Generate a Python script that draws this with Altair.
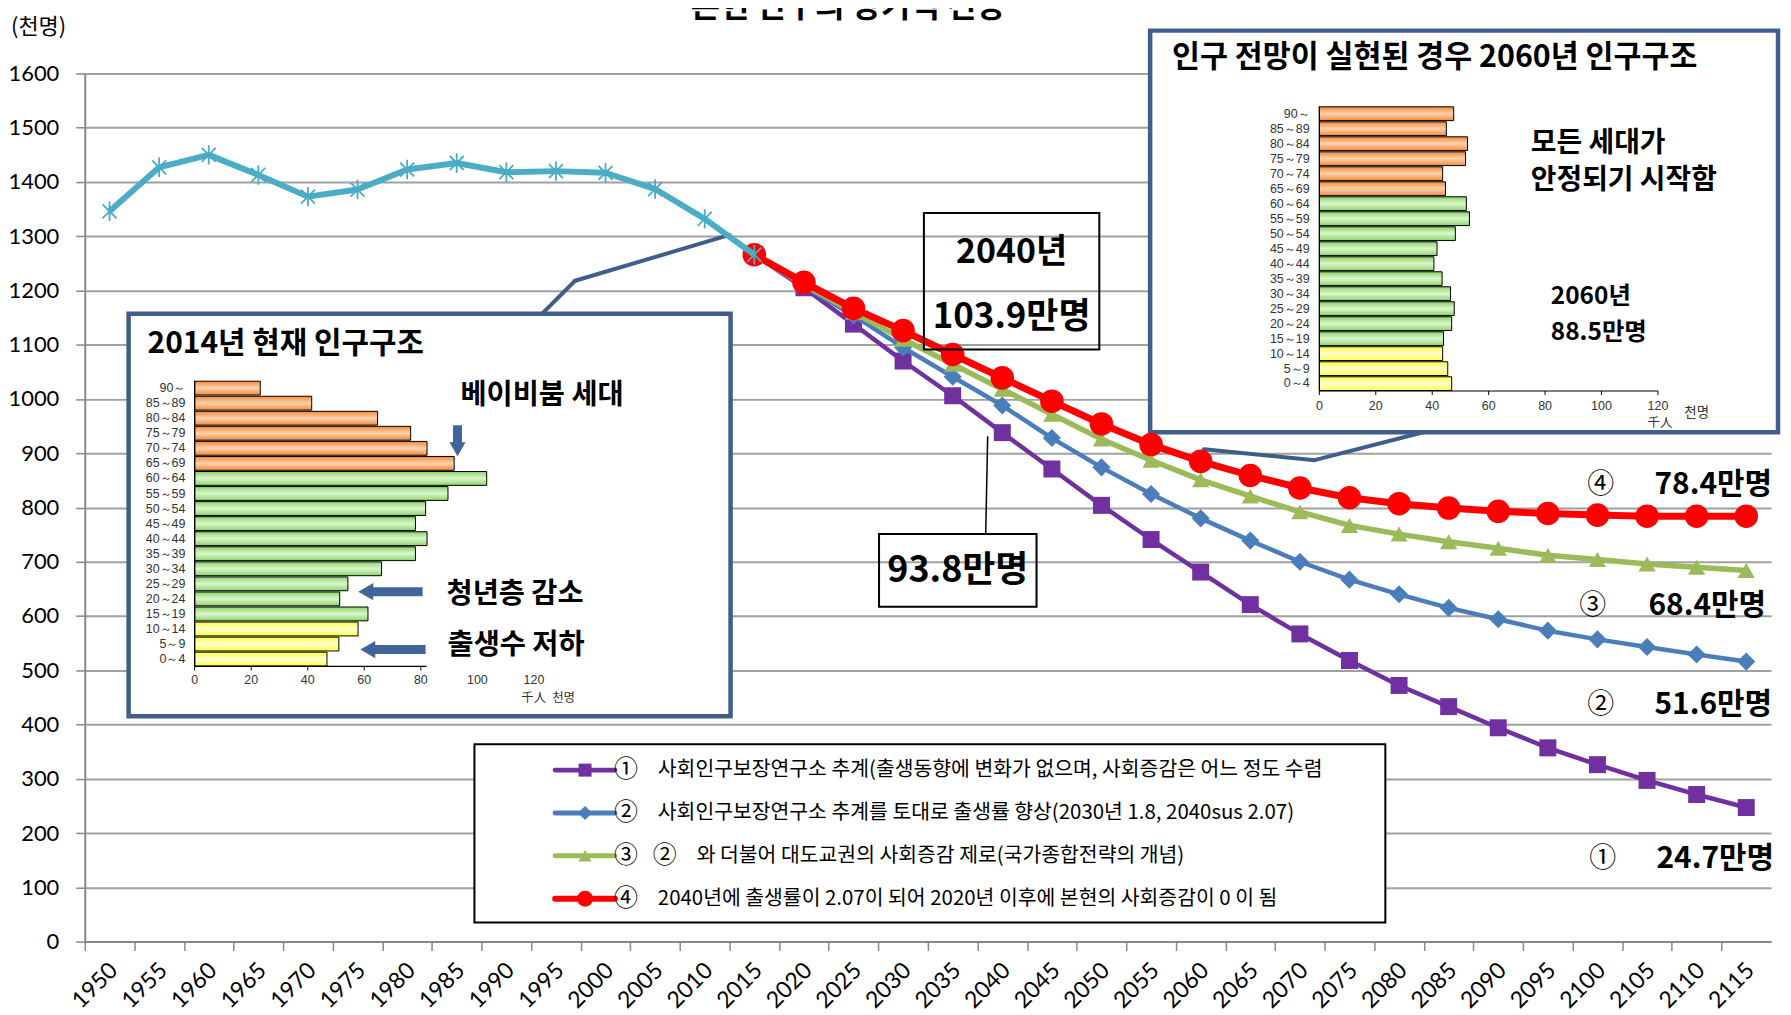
import altair as alt
import pandas as pd

# ---------------- data ----------------
hist_years = [1950, 1955, 1960, 1965, 1970, 1975, 1980, 1985, 1990, 1995, 2000, 2005, 2010, 2015]
hist_pop = [1346, 1427, 1450, 1413, 1373, 1386, 1423, 1435, 1418, 1420, 1417, 1387, 1332, 1266]

proj_years = [2015, 2020, 2025, 2030, 2035, 2040, 2045, 2050, 2055, 2060, 2065,
              2070, 2075, 2080, 2085, 2090, 2095, 2100, 2105, 2110, 2115]
proj1 = [1266, 1205, 1138, 1070, 1006, 938, 871, 804, 741, 681, 621, 567, 518, 472, 433, 394, 357, 326, 297, 271, 247]
proj2 = [1266, 1208, 1154, 1095, 1041, 988, 928, 874, 825, 780, 739, 700, 667, 640, 615, 594, 573, 557, 543, 529, 516]
proj3 = [1266, 1211, 1160, 1110, 1064, 1018, 972, 926, 887, 851, 821, 792, 767, 751, 737, 725, 712, 704, 696, 690, 684]
proj4 = [1266, 1215, 1167, 1126, 1082, 1039, 996, 954, 916, 885, 859, 836, 818, 807, 799, 793, 789, 786, 784, 784, 784]

x_labels = list(range(1950, 2120, 5))
y_ticks = list(range(0, 1700, 100))

ages = ["90～", "85～89", "80～84", "75～79", "70～74", "65～69", "60～64", "55～59", "50～54",
        "45～49", "40～44", "35～39", "30～34", "25～29", "20～24", "15～19", "10～14", "5～9", "0～4"]
age_groups = ["old"] * 6 + ["work"] * 10 + ["young"] * 3
pyr2014 = [23.2, 41.4, 64.7, 76.4, 82.2, 91.8, 103.3, 89.6, 81.7, 78.1, 82.2, 78.1, 66.1, 54.2, 51.3, 61.3, 57.8, 51.0, 46.8]
pyr2060 = [47.6, 45.0, 52.5, 51.8, 43.7, 44.7, 52.1, 53.2, 48.2, 41.7, 40.6, 43.5, 46.5, 47.8, 46.9, 44.0, 43.7, 45.5, 46.9]
pyr_ticks = [0, 20, 40, 60, 80, 100, 120]

legend_labels = [
    "사회인구보장연구소 추계(출생동향에 변화가 없으며, 사회증감은 어느 정도 수렴",
    "사회인구보장연구소 추계를 토대로 출생률 향상(2030년 1.8, 2040sus 2.07)",
    "와 더불어 대도교권의 사회증감 제로(국가종합전략의 개념)",
    "2040년에 출생률이 2.07이 되어 2020년 이후에 본현의 사회증감이 0 이 됨",
]
end_labels = ["24.7만명", "51.6만명", "68.4만명", "78.4만명"]
circled = ["①", "②", "③", "④"]

# ---------------- layout ----------------
PL, PT = 85, 72          # page position of plot area
W, H = 1692, 871
def px(x): return x - PL
def py(y): return y - PT

FK = "Noto Sans CJK KR"
FN = "Lato"
PURPLE, BLUE, GREEN, RED, CYAN = "#7030A0", "#4A7EBB", "#9BBB59", "#FF0000", "#4BACC6"
FRAME = "#3F5F8A"
ASTER = "M0,-1L0,1M-0.72,-0.72L0.72,0.72M-0.72,0.72L0.72,-0.72"

xscale = alt.Scale(domain=[1947.5, 2117.5], nice=False, zero=False)
yscale = alt.Scale(domain=[0, 1600], nice=False, zero=False)
half = W / 34 / 2

ONE = pd.DataFrame({"a": [0]})

def txt(s, x, y, size, weight="normal", align="left", font=FK, baseline="middle", color="black"):
    return alt.Chart(ONE).mark_text(text=s, align=align, baseline=baseline, fontSize=size,
                                    fontWeight=weight, font=font, color=color).encode(
        x=alt.value(px(x)), y=alt.value(py(y)))

def rect(x0, y0, x1, y1, fill="white", stroke="black", sw=2, fo=1):
    return alt.Chart(ONE).mark_rect(fill=fill, fillOpacity=fo, stroke=stroke, strokeWidth=sw).encode(
        x=alt.value(px(x0)), x2=alt.value(px(x1)), y=alt.value(py(y0)), y2=alt.value(py(y1)))

def seg(x0, y0, x1, y1, color, sw, cap="butt"):
    return alt.Chart(ONE).mark_rule(color=color, strokeWidth=sw, strokeCap=cap).encode(
        x=alt.value(px(x0)), x2=alt.value(px(x1)), y=alt.value(py(y0)), y2=alt.value(py(y1)))

def sym(shape, x, y, size, color, filled=True, sw=1):
    return alt.Chart(ONE).mark_point(shape=shape, size=size, filled=filled, color=color,
                                     opacity=1, strokeWidth=sw).encode(
        x=alt.value(px(x)), y=alt.value(py(y)))

def grad(edge, mid):
    return {"gradient": "linear", "x1": 0, "y1": 0, "x2": 0, "y2": 1,
            "stops": [{"offset": 0, "color": edge}, {"offset": 0.5, "color": mid},
                      {"offset": 1, "color": edge}]}

GRADS = {"old": grad("#F58A36", "#FDD3B0"),
         "work": grad("#8ED36A", "#DAF7CC"),
         "young": grad("#FFFF40", "#FFFFD2")}

def pyramid(vals, x0, x1, y0, y1, lab_x, tick_y, axis_max):
    df = pd.DataFrame({"age": ages, "v": vals, "grp": age_groups})
    xs = alt.Scale(domain=[0, 120], range=[px(x0), px(x1)], nice=False, zero=False)
    ys = alt.Scale(domain=ages, range=[py(y0), py(y1)], paddingInner=0.08, paddingOuter=0.03)
    out = []
    for g, fill in GRADS.items():
        out.append(alt.Chart(df).transform_filter(alt.datum.grp == g).mark_bar(
            fill=fill, stroke="black", strokeWidth=1).encode(
            x=alt.X("v:Q", scale=xs, axis=None), y=alt.Y("age:N", scale=ys, axis=None)))
    out.append(alt.Chart(df).mark_text(align="right", baseline="middle", fontSize=12.5,
                                       font="Liberation Sans", color="#333").encode(
        x=alt.value(px(lab_x)), y=alt.Y("age:N", scale=ys, axis=None), text="age:N"))
    tdf = pd.DataFrame({"t": pyr_ticks})
    out.append(alt.Chart(tdf).mark_text(baseline="middle", fontSize=12.5, font="Liberation Sans",
                                        color="#333").encode(
        x=alt.X("t:Q", scale=xs, axis=None), y=alt.value(py(tick_y)), text="t:Q"))
    out.append(alt.Chart(pd.DataFrame({"a": [0], "b": [axis_max]})).mark_rule(
        color="black", strokeWidth=1.2).encode(
        x=alt.X("a:Q", scale=xs, axis=None), x2="b:Q", y=alt.value(py(y1))))
    out.append(alt.Chart(tdf).transform_filter(alt.datum.t <= axis_max).mark_rule(
        color="black", strokeWidth=1).encode(
        x=alt.X("t:Q", scale=xs, axis=None), y=alt.value(py(y1)), y2=alt.value(py(y1) + 4)))
    out.append(seg(x0, y0, x0, y1, "black", 1.2))
    return out

# ---------------- main layers ----------------
hist_df = pd.DataFrame({"year": hist_years, "pop": hist_pop})
proj_df = pd.DataFrame({"year": proj_years, "s1": proj1, "s2": proj2, "s3": proj3, "s4": proj4})

axis_layer = alt.Chart(hist_df).mark_line(opacity=0).encode(
    x=alt.X("year:Q", scale=xscale, axis=alt.Axis(
        values=x_labels, format="d", labelAngle=-45, labelAlign="right", labelBaseline="middle",
        tickOffset=-half, labelOffset=half + 4, tickSize=9, tickColor="#888", tickWidth=1.5,
        domainColor="#888", domainWidth=2, labelFont=FN, labelFontSize=23, labelColor="black",
        labelPadding=16, labelFlush=False, labelOverlap=False, grid=False, title=None)),
    y=alt.Y("pop:Q", scale=yscale, axis=alt.Axis(
        values=y_ticks, format="d", grid=True, gridColor="#A0A0A0", gridWidth=2, domainColor="#888",
        domainWidth=2, tickColor="#888", tickSize=9, tickWidth=1.5, labelFont=FN,
        labelFontSize=22, labelColor="black", labelPadding=17, labelFlush=False, title=None)),
)

def series(field, color, width, shape, size, filled=True, psw=1):
    return alt.Chart(proj_df).mark_line(
        color=color, strokeWidth=width, strokeJoin="round",
        point=alt.OverlayMarkDef(shape=shape, size=size, filled=filled, color=color,
                                 opacity=1, strokeWidth=psw)).encode(
        x=alt.X("year:Q", scale=xscale, axis=None),
        y=alt.Y(f"{field}:Q", scale=yscale, axis=None))

line1 = series("s1", PURPLE, 4.5, "square", 290)
line2 = series("s2", BLUE, 4.5, "diamond", 330)
line3 = series("s3", GREEN, 5.5, "triangle-up", 300)
line4 = series("s4", RED, 7, "circle", 560)
hist_line = alt.Chart(hist_df).mark_line(
    color=CYAN, strokeWidth=6, strokeJoin="round",
    point=alt.OverlayMarkDef(shape=ASTER, size=380, filled=False, color=CYAN, opacity=1,
                             strokeWidth=1.8)).encode(
    x=alt.X("year:Q", scale=xscale, axis=None),
    y=alt.Y("pop:Q", scale=yscale, axis=None))

layers = [axis_layer]

# insets
layers.append(rect(129, 313, 733, 717, fill="white", stroke=FRAME, sw=4.5))
layers.append(rect(1154, 29, 1784, 432, fill="white", stroke=FRAME, sw=4.5))
layers += pyramid(pyr2014, 195.3, 535.7, 380.3, 667, 186, 681, 82)
layers += pyramid(pyr2060, 1323.8, 1663.5, 105, 390.6, 1314, 405.5, 120)
layers.append(txt("2014년 현재 인구구조", 148, 343, 30, "bold"))
layers.append(txt("인구 전망이 실현된 경우 2060년 인구구조", 1176, 57, 30.5, "bold"))
layers.append(txt("千人", 523, 699, 12.5, font=FK, color="#333"))
layers.append(txt("천명", 554, 699, 12.5, font=FK, color="#333"))
layers.append(txt("千人", 1653, 423, 12.5, font=FK, color="#333"))
layers.append(txt("천명", 1690, 413, 13.5, font=FK, color="#333"))
layers.append(txt("베이비붐 세대", 462, 395, 28.5, "bold"))
layers.append(txt("청년층 감소", 448, 594, 28.5, "bold"))
layers.append(txt("출생수 저하", 449, 645, 28.5, "bold"))
layers.append(txt("모든 세대가", 1536, 143, 28, "bold"))
layers.append(txt("안정되기 시작함", 1536, 180, 28, "bold"))
layers.append(txt("2060년", 1556, 296, 24.5, "bold"))
layers.append(txt("88.5만명", 1556, 332, 24.5, "bold"))
# arrows
ARROW = "#41659A"
layers.append(seg(459, 425, 459, 445, ARROW, 9))
layers.append(sym("triangle-down", 459, 449, 260, ARROW))
layers.append(seg(424, 592, 372, 592, ARROW, 9))
layers.append(sym("triangle-left", 367, 592, 300, ARROW))
layers.append(seg(427, 650, 374, 650, ARROW, 9))
layers.append(sym("triangle-left", 369, 650, 300, ARROW))
# connectors
layers.append(seg(544, 313, 577, 280, FRAME, 4, "round"))
layers.append(seg(577, 280, 732, 234, FRAME, 4, "round"))
layers.append(seg(1428, 432, 1319, 460, FRAME, 4, "round"))
layers.append(seg(1319, 460, 1208, 449, FRAME, 4, "round"))

# series
layers += [line1, line2, line3, line4, hist_line]

# call-outs
layers.append(rect(927, 212, 1103, 349, fill="white", fo=0, stroke="black", sw=2))
layers.append(txt("2040년", 1015, 252, 34, "bold", align="center"))
layers.append(txt("103.9만명", 1015, 316, 35, "bold", align="center"))
layers.append(seg(991, 436, 989, 534, "black", 1.5))
layers.append(rect(882, 534, 1040, 607, fill="white", fo=0, stroke="black", sw=2))
layers.append(txt("93.8만명", 961, 571, 36, "bold", align="center"))

# end labels
end_pos = [(1608, 1780, 860), (1606, 1778, 706), (1598, 1772, 606), (1606, 1778, 485)]
for (cx, rx, yy), c, lab in zip(end_pos, circled, end_labels):
    layers.append(txt(c, cx, yy, 27, align="center"))
    layers.append(txt(lab, rx, yy, 30, "bold", align="right"))

# legend
layers.append(rect(476, 745, 1390, 924, fill="white", stroke="black", sw=2))
leg_rows = [771, 814, 857, 900]
leg_style = [(PURPLE, "square", 170), (BLUE, "diamond", 200), (GREEN, "triangle-up", 180), (RED, "circle", 260)]
for i, (yy, (col, shp, sz), lab) in enumerate(zip(leg_rows, leg_style, legend_labels)):
    layers.append(seg(557, yy, 617, yy, col, 6 if i == 3 else 5, "round"))
    layers.append(sym(shp, 587, yy, sz, col))
    layers.append(txt(circled[i], 628, yy, 24, align="center"))
    if i == 2:
        layers.append(txt("②", 667, yy, 24, align="center"))
        layers.append(txt(lab, 699, yy, 20.5))
    else:
        layers.append(txt(lab, 660, yy, 20.5))

# titles (the reference shows the main title cut off at the top edge)
layers.append(txt("본현 인구의 장기적 전망", 851, 15, 32, "bold", align="center", baseline="alphabetic"))
layers.append(txt("(천명)", 11, 25, 22))

chart = alt.layer(*layers).resolve_scale(x="independent", y="independent").properties(
    width=W, height=H,
    padding={"left": PL - 8, "top": PT - 8, "right": 12, "bottom": 70},
    autosize=alt.AutoSizeParams(type="none"),
).configure_view(stroke=None)

chart.save("out.html", embed_options={"renderer": "svg", "actions": False})
